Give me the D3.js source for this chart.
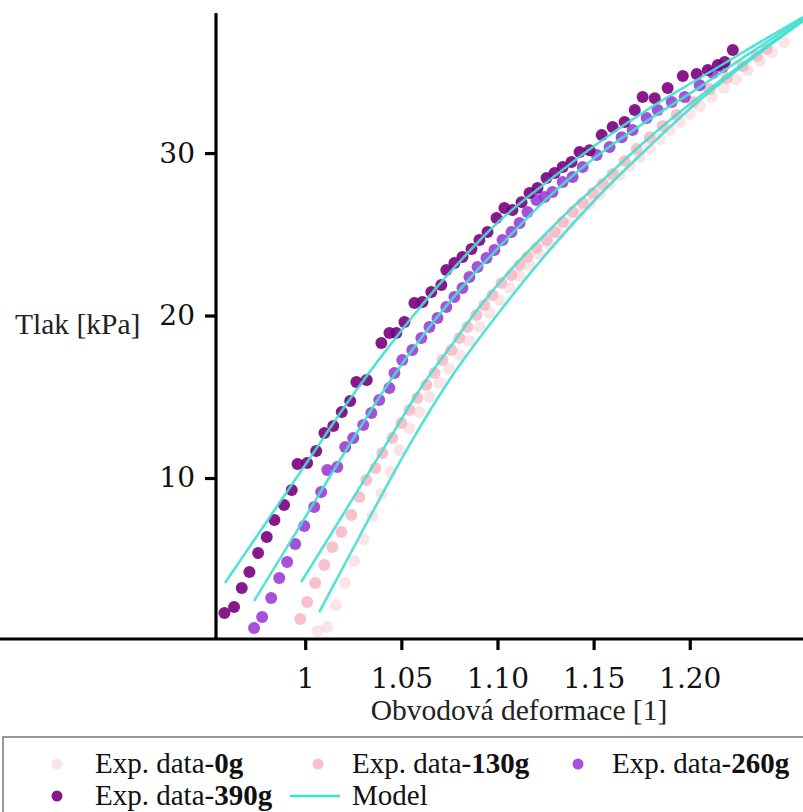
<!DOCTYPE html>
<html>
<head>
<meta charset="utf-8">
<script src="https://cdn.jsdelivr.net/npm/d3@7"></script>
<style>
  html, body { margin: 0; padding: 0; background: #fff; }
  svg { display: block; }
</style>
</head>
<body>
<svg id="chart" width="803" height="812"></svg>
<script>
// Tick values and labels
const xTickValues = [1, 1.05, 1.10, 1.15, 1.20];
const xTickLabels = ["1", "1.05", "1.10", "1.15", "1.20"];
const yTickValues = [10, 20, 30];
const yTickLabels = ["10", "20", "30"];

// Series names (load in grams)
const seriesNames = ["0g", "130g", "260g", "390g"];

// Experimental data: [circumferential strain, pressure kPa]
const exp0g = [
  [1.0063,0.58],[1.0115,0.83],[1.0161,2.18],[1.0208,3.54],[1.0255,4.89],[1.0302,6.25],
  [1.0349,7.66],[1.0396,9.02],[1.0443,10.37],[1.049,11.72],[1.0542,13.08],[1.0594,14.06],
  [1.0646,14.98],[1.0698,15.85],[1.075,16.71],[1.0802,17.57],[1.0854,18.43],[1.0906,19.29],
  [1.0958,20.15],[1.101,20.95],[1.1063,21.69],[1.1115,22.43],[1.1167,23.11],[1.1219,23.78],
  [1.1271,24.4],[1.1323,25.02],[1.1375,25.63],[1.1427,26.25],[1.1479,26.86],[1.1531,27.48],
  [1.1583,28.09],[1.1635,28.65],[1.1688,29.2],[1.174,29.75],[1.1792,30.31],[1.1844,30.86],
  [1.1896,31.42],[1.1948,31.91],[1.2,32.4],[1.2052,32.89],[1.2115,33.45],[1.2177,34.0],
  [1.224,34.55],[1.2302,35.11],[1.2365,35.66],[1.2427,36.22],[1.249,36.83]
];
const exp130g = [
  [0.9974,1.32],[1.001,2.37],[1.0052,3.54],[1.0099,4.65],[1.0141,5.75],[1.0188,6.68],
  [1.024,7.72],[1.0281,8.83],[1.0318,9.88],[1.0365,10.62],[1.0401,11.54],[1.0453,12.46],
  [1.05,13.38],[1.0542,14.18],[1.0583,14.92],[1.063,15.72],[1.0672,16.46],[1.0714,17.26],
  [1.076,17.88],[1.0802,18.62],[1.0844,19.29],[1.0891,20.03],[1.0932,20.65],[1.0974,21.26],
  [1.1021,22.0],[1.1073,22.49],[1.1115,23.11],[1.1156,23.6],[1.1203,24.15],[1.1255,24.65],
  [1.1297,25.14],[1.1339,25.75],[1.1391,26.37],[1.1443,26.92],[1.1495,27.54],[1.1547,28.09],
  [1.1599,28.71],[1.1661,29.51],[1.1724,30.25],[1.1792,30.98],[1.1859,31.66],[1.1932,32.34],
  [1.2016,33.14],[1.2104,33.94],[1.2193,34.62],[1.2276,35.35],[1.2349,35.97],[1.2401,36.4]
];
const exp260g = [
  [0.9734,0.77],[0.9776,1.45],[0.9823,2.62],[0.9865,3.85],[0.9906,4.83],[0.9948,5.94],
  [0.9995,7.05],[1.0047,8.22],[1.0083,9.14],[1.0115,10.49],[1.0167,10.68],[1.0208,11.91],
  [1.025,12.46],[1.0302,13.26],[1.0344,14.0],[1.0385,14.8],[1.0438,15.54],[1.0464,16.46],
  [1.0505,17.26],[1.0557,17.88],[1.0604,18.62],[1.0646,19.29],[1.0688,19.85],[1.0734,20.52],
  [1.0776,21.14],[1.0818,21.69],[1.0854,22.37],[1.0896,22.98],[1.0943,23.54],[1.0984,24.03],
  [1.1026,24.65],[1.1073,25.14],[1.1115,25.69],[1.1156,26.37],[1.1203,27.11],[1.1245,27.29],
  [1.1286,27.6],[1.1339,28.22],[1.1391,28.52],[1.1443,29.14],[1.1516,29.88],[1.1583,30.37],
  [1.1646,30.98],[1.1703,31.42],[1.1776,32.15],[1.1833,32.65],[1.1906,33.14],[1.1974,33.45],
  [1.2052,34.18],[1.212,34.92],[1.2172,35.29]
];
const exp390g = [
  [0.958,1.69],[0.963,2.06],[0.967,3.23],[0.971,4.22],[0.9755,5.38],[0.980,6.37],
  [0.984,7.42],[0.989,8.34],[0.993,9.26],[0.996,10.86],[1.001,10.92],[1.0057,11.66],
  [1.010,12.77],[1.0146,13.2],[1.019,14.06],[1.0234,14.74],[1.0266,15.91],[1.032,16.03],
  [1.0396,18.31],[1.0438,18.92],[1.0474,18.92],[1.0516,19.6],[1.0568,20.77],[1.061,20.83],
  [1.0656,21.45],[1.0708,21.88],[1.0734,22.8],[1.0776,23.23],[1.0818,23.6],[1.0865,24.09],
  [1.0906,24.65],[1.0948,25.14],[1.0995,26.0],[1.1036,26.62],[1.1078,26.49],[1.1125,26.98],
  [1.1167,27.54],[1.1208,27.85],[1.1255,28.46],[1.1297,28.77],[1.1339,29.14],[1.1385,29.45],
  [1.1427,30.06],[1.1479,30.18],[1.1542,31.11],[1.1599,31.6],[1.1661,31.91],[1.1714,32.65],
  [1.1755,33.45],[1.1818,33.38],[1.1885,34.0],[1.1964,34.74],[1.2036,34.86],[1.2094,35.11],
  [1.2146,35.42],[1.2182,35.6],[1.2224,36.34]
];

// Model curves
const model0g = [
  [1.0073,1.75],[1.0281,6.37],[1.0542,12.03],[1.075,16.03],[1.101,20.22],[1.1271,24.03],
  [1.1531,27.42],[1.1792,30.43],[1.2052,33.26],[1.2313,35.72],[1.2589,38.12]
];
const model130g = [
  [0.9979,3.6],[1.0125,6.37],[1.0281,9.38],[1.0438,12.4],[1.0594,15.42],[1.075,18.0],
  [1.0906,20.52],[1.1063,22.74],[1.1219,24.65],[1.1375,26.49],[1.1531,28.15],[1.174,30.43],
  [1.1948,32.52],[1.2156,34.43],[1.2365,36.28],[1.2589,38.18]
];
const model260g = [
  [0.9734,2.43],[0.9969,6.98],[1.0229,12.03],[1.0438,15.91],[1.0646,19.29],[1.0854,22.25],
  [1.1063,24.89],[1.1271,27.35],[1.1531,29.94],[1.1792,32.09],[1.2052,34.06],[1.2313,36.15],
  [1.2589,38.31]
];
const model390g = [
  [0.9583,3.54],[0.98125,7.54],[1.0021,11.17],[1.0229,14.8],[1.049,18.92],[1.075,22.62],
  [1.101,25.82],[1.1271,28.34],[1.1531,30.68],[1.1792,32.77],[1.2052,34.62],[1.2313,36.46],
  [1.2589,38.37]
];

const expSeries = [exp0g, exp130g, exp260g, exp390g];
const modelSeries = [model0g, model130g, model260g, model390g];
const pointColors = ["rgba(243,196,202,0.45)", "rgba(248,182,194,0.85)", "rgba(150,50,210,0.85)", "rgba(122,0,128,0.9)"];
const modelColor = "#40e0d0";
const serif = "'Liberation Serif', 'Times New Roman', serif";

const svg = d3.select("#chart");
const plot = { left: 216, right: 803, top: 13, bottom: 639 };

const x = d3.scaleLinear().domain([0.9536, 1.2589]).range([plot.left, plot.right]);
const y = d3.scaleLinear().domain([0.092, 38.62]).range([plot.bottom, plot.top]);

svg.append("defs").append("clipPath").attr("id", "plotClip")
  .append("rect")
  .attr("x", plot.left).attr("y", plot.top - 10)
  .attr("width", plot.right - plot.left + 10).attr("height", plot.bottom - plot.top + 10);

const g = svg.append("g").attr("clip-path", "url(#plotClip)");

// experimental points
expSeries.forEach((s, i) => {
  g.append("g").selectAll("circle").data(s).join("circle")
    .attr("cx", d => x(d[0]))
    .attr("cy", d => y(d[1]))
    .attr("r", 6)
    .attr("fill", pointColors[i]);
});

// model lines
const line = d3.line().x(d => x(d[0])).y(d => y(d[1])).curve(d3.curveMonotoneX);
modelSeries.forEach(s => {
  g.append("path").datum(s)
    .attr("d", line)
    .attr("fill", "none")
    .attr("stroke", modelColor)
    .attr("stroke-width", 2.6)
    .attr("stroke-opacity", 0.9);
});

// axes
const xAxis = d3.axisBottom(x).tickValues(xTickValues)
  .tickFormat((d, i) => xTickLabels[i]).tickSize(11).tickSizeOuter(0).tickPadding(18);
const yAxis = d3.axisLeft(y).tickValues(yTickValues)
  .tickFormat((d, i) => yTickLabels[i]).tickSize(11).tickSizeOuter(0).tickPadding(10);

const gx = svg.append("g").attr("transform", `translate(0,${plot.bottom})`).call(xAxis);
const gy = svg.append("g").attr("transform", `translate(${plot.left},0)`).call(yAxis);
[gx, gy].forEach(a => {
  a.select(".domain").attr("stroke", "#000").attr("stroke-width", 3.2);
  a.selectAll(".tick line").attr("stroke", "#000").attr("stroke-width", 3.2);
  a.selectAll(".tick text").attr("fill", "#111")
    .style("font-family", "'DejaVu Serif', serif").style("font-size", "28px");
});
gy.select(".domain").attr("d", `M0,${plot.top}V${plot.bottom}`);
gx.select(".domain").attr("d", `M0,0H${plot.right}`);

// axis titles
svg.append("text")
  .attr("x", 519).attr("y", 720)
  .attr("text-anchor", "middle")
  .style("font-family", serif).style("font-size", "29.5px")
  .attr("fill", "#222")
  .text("Obvodová deformace [1]");
svg.append("text")
  .attr("x", 15).attr("y", 334)
  .style("font-family", serif).style("font-size", "29.5px")
  .attr("fill", "#222")
  .text("Tlak [kPa]");

// legend
const lg = svg.append("g");
lg.append("rect").attr("x", 3).attr("y", 737).attr("width", 815).attr("height", 90)
  .attr("fill", "#fff").attr("stroke", "#777").attr("stroke-width", 1.5);

const legendItems = [
  { type: "dot", idx: 0, cx: 57, cy: 764, tx: 95 },
  { type: "dot", idx: 1, cx: 318, cy: 764, tx: 352 },
  { type: "dot", idx: 2, cx: 578, cy: 764, tx: 612 },
  { type: "dot", idx: 3, cx: 57, cy: 796, tx: 95 },
  { type: "line", cx: 315, cy: 796, tx: 352 }
];
legendItems.forEach(it => {
  if (it.type === "dot") {
    lg.append("circle").attr("cx", it.cx).attr("cy", it.cy).attr("r", 5.5)
      .attr("fill", pointColors[it.idx]);
  } else {
    lg.append("line").attr("x1", it.cx - 25).attr("x2", it.cx + 25)
      .attr("y1", it.cy).attr("y2", it.cy)
      .attr("stroke", modelColor).attr("stroke-width", 2.6);
  }
  const t = lg.append("text").attr("x", it.tx).attr("y", it.cy + 9)
    .style("font-family", serif).style("font-size", "29px")
    .attr("fill", "#111");
  if (it.type === "dot") {
    t.append("tspan").text("Exp. data-");
    t.append("tspan").attr("font-weight", "bold").text(seriesNames[it.idx]);
  } else {
    t.text("Model");
  }
});
</script>
</body>
</html>
